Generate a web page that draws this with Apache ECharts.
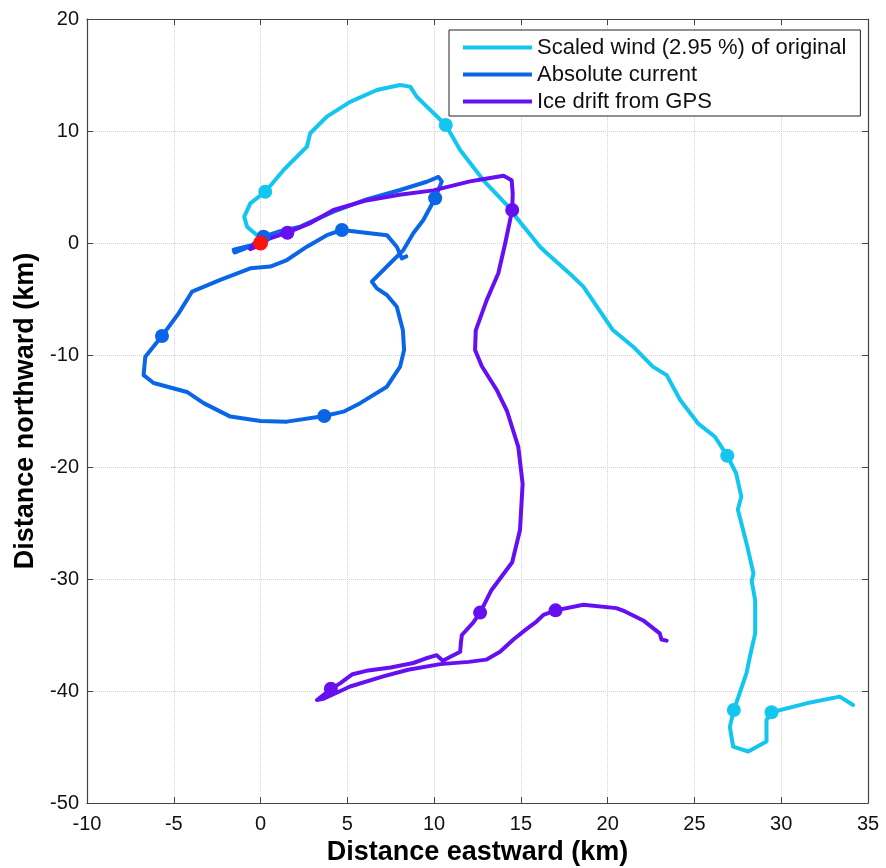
<!DOCTYPE html>
<html>
<head>
<meta charset="utf-8">
<script src="https://cdn.jsdelivr.net/npm/echarts@6/dist/echarts.min.js"></script>
<style>html,body{margin:0;padding:0;background:#fff}#c{width:886px;height:868px}</style>
</head>
<body>
<div id="c"></div>
<script>
// Scaled wind track [east km, north km]
const windTrack = [[0,0],[-0.1,0.56],[-0.78,1.46],[-0.94,2.35],[-0.59,3.54],[0.27,4.58],[1.32,6.5],[2.67,8.6],[2.86,9.8],[3.82,11.28],[5.16,12.6],[6.7,13.66],[8.04,14.1],[8.62,13.96],[9.0,13.06],[9.58,12.17],[10.67,10.54],[11.5,8.3],[12.84,5.6],[14.28,3.24],[14.57,2.6],[16.1,-0.33],[16.5,-0.92],[18.0,-3.0],[18.6,-3.9],[20.3,-7.77],[21.47,-9.26],[22.6,-11.04],[23.4,-11.8],[24.17,-14.0],[25.2,-16.1],[26.18,-17.3],[26.89,-19.0],[27.4,-20.56],[27.7,-22.65],[27.5,-23.8],[28.0,-26.8],[28.4,-29.5],[28.3,-30.2],[28.5,-31.9],[28.5,-34.85],[28.2,-36.9],[28.0,-38.4],[27.27,-41.7],[27.04,-43.2],[27.23,-44.97],[28.1,-45.4],[29.15,-44.5],[29.15,-42.6],[29.44,-41.9],[31.46,-41.1],[33.37,-40.5],[34.14,-41.25]];
// Absolute current track
const currentTrack = [[0,0],[-0.8,-0.3],[-1.55,-0.6],[-1.5,-0.85],[-0.6,-0.3],[0.17,0.56],[1.0,1.0],[2.29,1.46],[4.2,2.8],[6.1,3.9],[8.04,4.73],[9.58,5.47],[10.25,5.9],[10.44,5.5],[10.06,4.0],[9.38,2.05],[8.8,0.87],[8.23,-0.63],[7.28,-2.1],[6.41,-3.45],[6.7,-4.05],[7.28,-4.64],[7.85,-5.69],[8.2,-7.77],[8.27,-9.55],[8.04,-11.04],[7.28,-12.83],[5.74,-14.3],[4.78,-15.06],[3.67,-15.45],[1.52,-15.95],[0,-15.9],[-1.74,-15.5],[-3.28,-14.3],[-4.24,-13.3],[-6.16,-12.5],[-6.74,-11.8],[-6.64,-10.15],[-5.68,-8.3],[-4.72,-6.28],[-3.95,-4.35],[-2.32,-3.3],[-0.59,-2.26],[0.56,-2.1],[1.52,-1.52],[2.67,-0.33],[3.82,0.7],[4.69,1.16],[7.28,0.7],[7.85,-0.33],[8.14,-1.37],[8.4,-1.2]];
// Ice drift from GPS track
const iceTrack = [[0,0],[-0.5,-0.3],[-0.6,-0.55],[-0.2,-0.3],[0.5,0.4],[1.55,0.92],[2.9,1.8],[4.2,2.95],[6.1,3.8],[8.0,4.3],[9.96,4.7],[12.07,5.5],[12.8,5.7],[14.0,6.0],[14.47,5.6],[14.53,4.4],[14.5,2.95],[14.1,0],[13.7,-2.7],[13.03,-5.1],[12.4,-7.8],[12.36,-9.55],[12.75,-11.0],[13.6,-13.1],[14.2,-15.0],[14.85,-18.2],[15.1,-21.5],[14.95,-25.6],[14.5,-28.5],[13.3,-31.0],[12.65,-33.0],[12.25,-33.9],[11.6,-35.0],[11.55,-35.6],[11.5,-36.5],[10.5,-37.3],[10.15,-36.8],[9.5,-37.1],[8.8,-37.5],[7.5,-37.9],[6.1,-38.2],[5.3,-38.5],[4.6,-39.3],[4.0,-39.9],[3.25,-40.8],[3.6,-40.7],[4.6,-40.0],[5.16,-39.6],[7.07,-38.7],[8.5,-38.1],[10.35,-37.6],[12.0,-37.4],[13.0,-37.2],[13.8,-36.5],[14.57,-35.4],[15.3,-34.5],[15.9,-33.8],[16.3,-33.2],[17.0,-32.8],[18.6,-32.3],[20.5,-32.6],[21.0,-32.9],[22.05,-33.7],[23.0,-34.85],[23.1,-35.4],[23.4,-35.5]];
// Time markers on each track
const windDots = [[0.27,4.58],[10.67,10.54],[26.89,-19.0],[27.27,-41.7],[29.44,-41.9]];
const currentDots = [[0.17,0.56],[10.06,4.0],[4.69,1.16],[-5.68,-8.3],[3.67,-15.45]];
const iceDots = [[1.55,0.92],[14.5,2.95],[12.65,-33.0],[4.05,-39.8],[17.0,-32.8]];
const startPoint = [[0,0]];
const seriesNames = ['Scaled wind (2.95 %) of original','Absolute current','Ice drift from GPS'];
const xTicks = {min:-10, max:35, interval:5};
const yTicks = {min:-50, max:20, interval:10};

const cWind = '#12c6f0', cCur = '#0a66e6', cIce = '#6610f2';
const font = 'Liberation Sans, Arial, sans-serif';
const chart = echarts.init(document.getElementById('c'), null, {renderer:'canvas'});
const gridLine = {show:true, lineStyle:{color:'#d4d4d4', type:'dotted', width:1}};
const axisLine = {show:true, onZero:false, lineStyle:{color:'#444', width:1.2}};
const tick = {show:true, inside:true, length:6, lineStyle:{color:'#444'}};
function line(name, data, color, z){
  return {name, type:'line', data, showSymbol:false, symbol:'none', smooth:false, z,
    lineStyle:{color, width:4, cap:'round', join:'round'}, itemStyle:{color}, animation:false};
}
function dots(data, color, z, size){
  return {type:'scatter', data, symbolSize:size||14, itemStyle:{color, opacity:1}, z, animation:false, silent:true};
}
chart.setOption({
  animation:false,
  backgroundColor:'#fff',
  grid:{left:87, right:18, top:19, bottom:65, containLabel:false, outerBoundsMode:'none'},
  legend:{
    orient:'vertical', left:449, top:30, data:seriesNames,
    icon:'rect', itemWidth:69, itemHeight:4, itemGap:4,
    padding:[6,14,3,14], borderColor:'#222', borderWidth:1, backgroundColor:'#fff',
    textStyle:{fontFamily:font, fontSize:22, color:'#111', lineHeight:23},
    selectedMode:false
  },
  xAxis:[{
    type:'value', min:xTicks.min, max:xTicks.max, interval:xTicks.interval, position:'bottom',
    name:'Distance eastward (km)', nameLocation:'middle', nameGap:35,
    nameTextStyle:{fontFamily:font, fontSize:27, fontWeight:'bold', color:'#000'},
    axisLine, axisTick:tick, splitLine:gridLine,
    axisLabel:{fontFamily:font, fontSize:20, color:'#111', margin:11}
  },{
    type:'value', min:xTicks.min, max:xTicks.max, interval:xTicks.interval, position:'top',
    axisLine, axisTick:tick, splitLine:{show:false}, axisLabel:{show:false}
  }],
  yAxis:[{
    type:'value', min:yTicks.min, max:yTicks.max, interval:yTicks.interval, position:'left',
    name:'Distance northward (km)', nameLocation:'middle', nameGap:48,
    nameTextStyle:{fontFamily:font, fontSize:27, fontWeight:'bold', color:'#000'},
    axisLine, axisTick:tick, splitLine:gridLine,
    axisLabel:{fontFamily:font, fontSize:20, color:'#111', margin:8}
  },{
    type:'value', min:yTicks.min, max:yTicks.max, interval:yTicks.interval, position:'right',
    axisLine, axisTick:tick, splitLine:{show:false}, axisLabel:{show:false}
  }],
  series:[
    line(seriesNames[0], windTrack, cWind, 2),
    line(seriesNames[1], currentTrack, cCur, 3),
    line(seriesNames[2], iceTrack, cIce, 4),
    dots(windDots, cWind, 5),
    dots(currentDots, cCur, 5),
    dots(iceDots, cIce, 6),
    dots(startPoint, '#ff1010', 7, 15)
  ]
});
</script>
</body>
</html>
